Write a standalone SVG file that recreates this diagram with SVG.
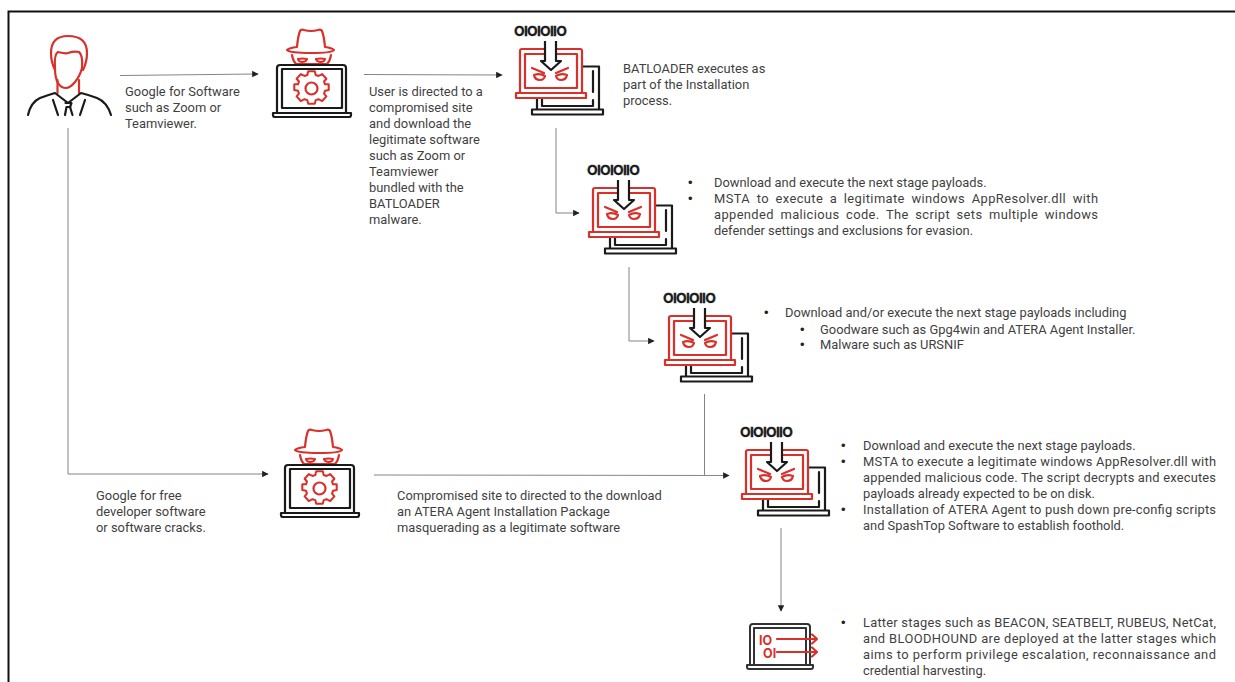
<svg xmlns="http://www.w3.org/2000/svg" width="1235" height="682" viewBox="0 0 1235 682">
<style>
text{font-family:"Roboto","Liberation Sans",sans-serif;font-size:12.9px;fill:#3f3f3f}
.bu{font-family:"Liberation Sans",sans-serif;font-size:13px;fill:#222}
.j{word-spacing:3px}
.bin{font-family:"Inter","Liberation Sans",sans-serif;font-size:13.8px;font-weight:700;fill:#1a1a1a;letter-spacing:-.75px;stroke:#1a1a1a;stroke-width:.3}
.ro{font-family:"Inter","Liberation Sans",sans-serif;font-size:12.5px;font-weight:700;fill:#d9302a}
.k{fill:none;stroke:#1a1a1a;stroke-width:2.200;stroke-linecap:round;stroke-linejoin:round}
.kw{fill:#fff;stroke:#1a1a1a;stroke-width:2.200;stroke-linejoin:round}
.g{fill:none;stroke:#333;stroke-width:2;stroke-linecap:round;stroke-linejoin:round}
.r{fill:none;stroke:#d9302a;stroke-width:2.200;stroke-linecap:round;stroke-linejoin:round}
.c{fill:none;stroke:#777;stroke-width:.9}
</style>
<defs>
<marker id="a" viewBox="0 0 10 10" refX="9" refY="5" markerWidth="6.500" markerHeight="6.500" markerUnits="userSpaceOnUse" orient="auto"><path d="M0 0L10 5L0 10z" fill="#222"/></marker>
<g id="hacker">
<path class="r" d="M297 47q1-11 3-16 1-2 4-1 7 2 14 0 3-1 4 1 2 5 3 16 7 1 9 3-2 3-23 3-21 0-24-3 2-2 10-3z"/>
<path class="r" d="M292 55q1 6 4 9h31q3-3 4-9"/>
<path class="r" d="M298 59q4-1 9 0-1 3-5 3-3 0-4-3zM316 59q5-1 9 0-1 3-4 3-4 0-5-3z"/>
<path class="kw" d="M277 112v-44q0-3 3-3h63q3 0 3 3v44"/>
<path class="k" d="M282 108v-39h60v39zM273 113h78v2q0 2-2 2h-74q-2 0-2-2z"/>
<g class="r"><circle cx="311.500" cy="88.500" r="6"/><path d="M308 73.500h7l1 4 3 1 4-2 4.500 5-2.500 3 1 3h4v6l-4 1-1 3 2.500 3-4.500 5-4-2-3 1-1 4h-7l-1-4-3-1-4 2-4.500-5 2.500-3-1-3-4-1v-6h4l1-3-2.500-3 4.500-5 4 2 3-1z" transform="translate(311.500 88.500) scale(.93) translate(-311.500 -92)"/></g>
</g>
<g id="mal">
<text class="bin" x="514" y="36">OIOIOIIO</text>
<path class="k" d="M583 66.500h16v42M593 71v21M537 98v11M542 98v8h51v-6M532 109.500h71v5h-71z"/>
<path class="r" d="M520 92v-41q0-2 2-2h58q2 0 2 2v41M525 88v-34h52v34zM516 93h70v5h-70z"/>
<path class="kw" d="M545 41v20h-4l10 9 10-9h-5v-20" style="fill:#fff"/>
<path class="r" d="M532 68l12 5M568 68l-12 5M534 75q6-2 11 1-1 4-5 4-5 0-6-5zM567 75q-6-2-11 1 1 4 5 4 5 0 6-5z"/>
</g>
</defs>

<rect x="8.500" y="11.500" width="1240" height="690" fill="none" stroke="#111" stroke-width="2"/>

<g id="connectors">
<path class="c" d="M120 75.500L258 74" marker-end="url(#a)"/>
<path class="c" d="M364 74.500L502 75" marker-end="url(#a)"/>
<path class="c" d="M556 128V213H579" marker-end="url(#a)"/>
<path class="c" d="M629 267V341H654" marker-end="url(#a)"/>
<path class="c" d="M68 128V474H268" marker-end="url(#a)"/>
<path class="c" d="M374 475L729 475.500" marker-end="url(#a)"/>
<path class="c" d="M704.500 394V475"/>
<path class="c" d="M781 528V611" marker-end="url(#a)"/>
</g>

<g id="user">
<path class="r" d="M55 70q-4-8-4-17 0-17 17-17 19 0 19 17 0 9-4 17"/>
<path class="r" d="M55 68q-1-14 3-16 8 2 10 1 6-2 11-1 4 3 3 16-2 8-7 14-5 6-9 6-5 0-8-5-3-5-3-15z"/>
<path class="r" d="M57.500 80v13M79 80v13"/>
<path class="k" d="M28 115q3-13 12-17 8-3 15-5l13 10 13-10q8 2 16 5 10 4 14 17M53 100l5 15M85 100l-5 15M65.500 103h6l-1.500 4 2.500 8M66.500 107h4M66.500 107l-1.500 8"/>
</g>
<use id="hacker1" href="#hacker"/>
<use id="hacker2" href="#hacker" transform="translate(8 400)"/>
<use id="mal1" href="#mal"/>
<use id="mal2" href="#mal" transform="translate(73 139)"/>
<use id="mal3" href="#mal" transform="translate(149 267)"/>
<use id="mal4" href="#mal" transform="translate(226 401)"/>
<g id="final">
<path class="g" d="M750 664v-37q0-3 3-3h54q3 0 3 3v37M754 664v-36h52v36M747 665h66v2q0 2-2 2h-62q-2 0-2-2z"/>
<path class="r" d="M777 639h40M812 634.500l5 4.500-5 4.500M777 652h40M812 647.500l5 4.500-5 4.500"/>
<text class="ro" x="759" y="644.500">IO</text><text class="ro" x="763" y="657.500">OI</text>
</g>

<g id="t1"><text x="125" y="96">Google for Software</text><text x="125" y="112">such as Zoom or</text><text x="125" y="128">Teamviewer.</text></g>
<g id="t2"><text x="369" y="96">User is directed to a</text><text x="369" y="112">compromised site</text><text x="369" y="128">and download the</text><text x="369" y="144">legitimate software</text><text x="369" y="160">such as Zoom or</text><text x="369" y="176">Teamviewer</text><text x="369" y="192">bundled with the</text><text x="369" y="208">BATLOADER</text><text x="369" y="224">malware.</text></g>
<g id="t3"><text x="623" y="73">BATLOADER executes as</text><text x="623" y="89">part of the Installation</text><text x="623" y="105">process.</text></g>
<g id="t4"><text class="bu" x="688" y="187">•</text><text x="714" y="187">Download and execute the next stage payloads.</text><text class="bu" x="688" y="203">•</text><text class="j" x="714" y="203" textLength="384">MSTA to execute a legitimate windows AppResolver.dll with</text><text class="j" x="714" y="219" textLength="384">appended malicious code. The script sets multiple windows</text><text x="714" y="235">defender settings and exclusions for evasion.</text></g>
<g id="t5"><text class="bu" x="764" y="317">•</text><text x="785" y="317">Download and/or execute the next stage payloads including</text><text class="bu" x="800" y="334">•</text><text x="820" y="334">Goodware such as Gpg4win and ATERA Agent Installer.</text><text class="bu" x="800" y="349">•</text><text x="820" y="349">Malware such as URSNIF</text></g>
<g id="t6"><text x="96" y="500">Google for free</text><text x="96" y="516">developer software</text><text x="96" y="532">or software cracks.</text></g>
<g id="t7"><text x="397" y="500">Compromised site to directed to the download</text><text x="397" y="516">an ATERA Agent Installation Package</text><text x="397" y="532">masquerading as a legitimate software</text></g>
<g id="t8"><text class="bu" x="841" y="450">•</text><text x="863" y="450">Download and execute the next stage payloads.</text><text class="bu" x="841" y="466">•</text><text x="863" y="466" textLength="353">MSTA to execute a legitimate windows AppResolver.dll with</text><text x="863" y="482" textLength="353">appended malicious code. The script decrypts and executes</text><text x="863" y="498">payloads already expected to be on disk.</text><text class="bu" x="841" y="514">•</text><text x="863" y="514" textLength="353">Installation of ATERA Agent to push down pre-config scripts</text><text x="863" y="530">and SpashTop Software to establish foothold.</text></g>
<g id="t9"><text class="bu" x="841" y="627">•</text><text x="863" y="627" textLength="353">Latter stages such as BEACON, SEATBELT, RUBEUS, NetCat,</text><text x="863" y="643" textLength="353">and BLOODHOUND are deployed at the latter stages which</text><text x="863" y="659" textLength="353">aims to perform privilege escalation, reconnaissance and</text><text x="863" y="675">credential harvesting.</text></g>
</svg>
